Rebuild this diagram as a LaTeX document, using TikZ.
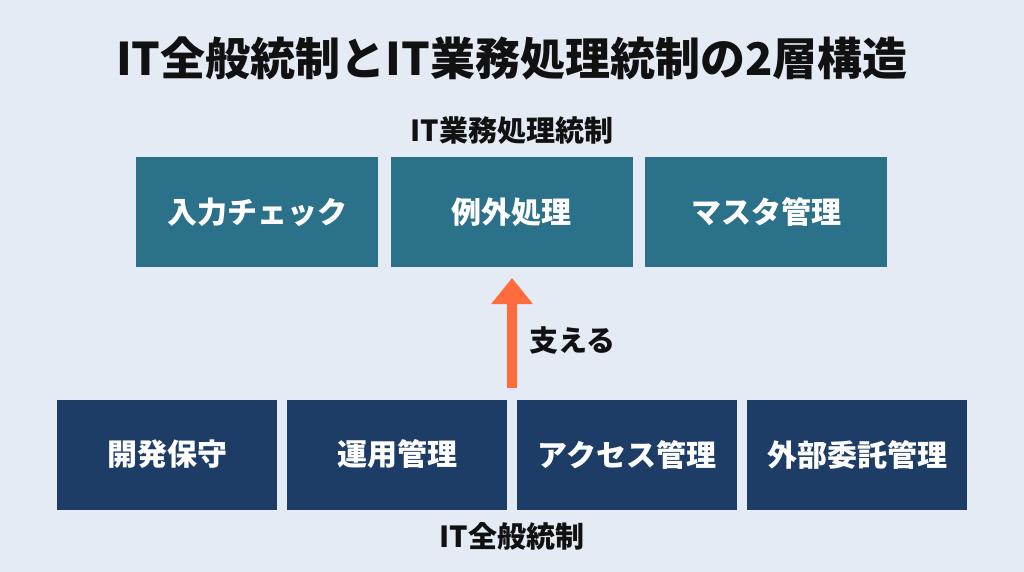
\documentclass[tikz,border=0pt]{standalone}
\usepackage{fontspec}
\setmainfont{Noto Sans CJK JP}
\usetikzlibrary{arrows.meta}
\definecolor{bg}{HTML}{E4EBF5}
\definecolor{teal}{HTML}{2A7189}
\definecolor{navy}{HTML}{1E3D66}
\definecolor{orng}{HTML}{FF6B3D}
\definecolor{ink}{HTML}{111111}
\tikzset{
  upbox/.style={fill=teal, draw=none, minimum width=242pt, minimum height=110pt, inner sep=0pt, text=white, font=\fontsize{30}{34}\selectfont\bfseries},
  lowbox/.style={fill=navy, draw=none, minimum width=220pt, minimum height=110pt, inner sep=0pt, text=white, font=\fontsize{30}{34}\selectfont\bfseries},
  label/.style={text=ink, inner sep=0pt, font=\fontsize{29}{32}\selectfont\bfseries},
}
\begin{document}
\begin{tikzpicture}[x=1pt,y=-1pt]
\fill[bg] (0,0) rectangle (1024,572);
\useasboundingbox (0,0) rectangle (1024,572);
\node[text=ink, inner sep=0pt, font=\fontsize{45}{50}\selectfont\bfseries] (title) at (512,58) {IT全般統制とIT業務処理統制の2層構造};
\node[label] (uplabel) at (512,131) {IT業務処理統制};
\node[upbox] (u1) at (257,212) {入力チェック};
\node[upbox] (u2) at (511.5,212) {例外処理};
\node[upbox] (u3) at (766,212) {マスタ管理};
\node[lowbox] (l1) at (167,454.5) {開発保守};
\node[lowbox] (l2) at (397,454.5) {運用管理};
\node[lowbox] (l3) at (627,454.5) {アクセス管理};
\node[lowbox] (l4) at (857,454.5) {外部委託管理};
\node[label] (lowlabel) at (512,536.5) {IT全般統制};
\coordinate (abot) at (512,388);
\coordinate (atop) at (512,278);
\draw[orng, line width=10pt, -{Triangle[width=40pt,length=26pt]}] (abot) -- (atop);
\node[text=ink, inner sep=0pt, anchor=west, font=\fontsize{29}{32}\selectfont\bfseries] (sasaeru) at (529,341) {支える};
\end{tikzpicture}
\end{document}
